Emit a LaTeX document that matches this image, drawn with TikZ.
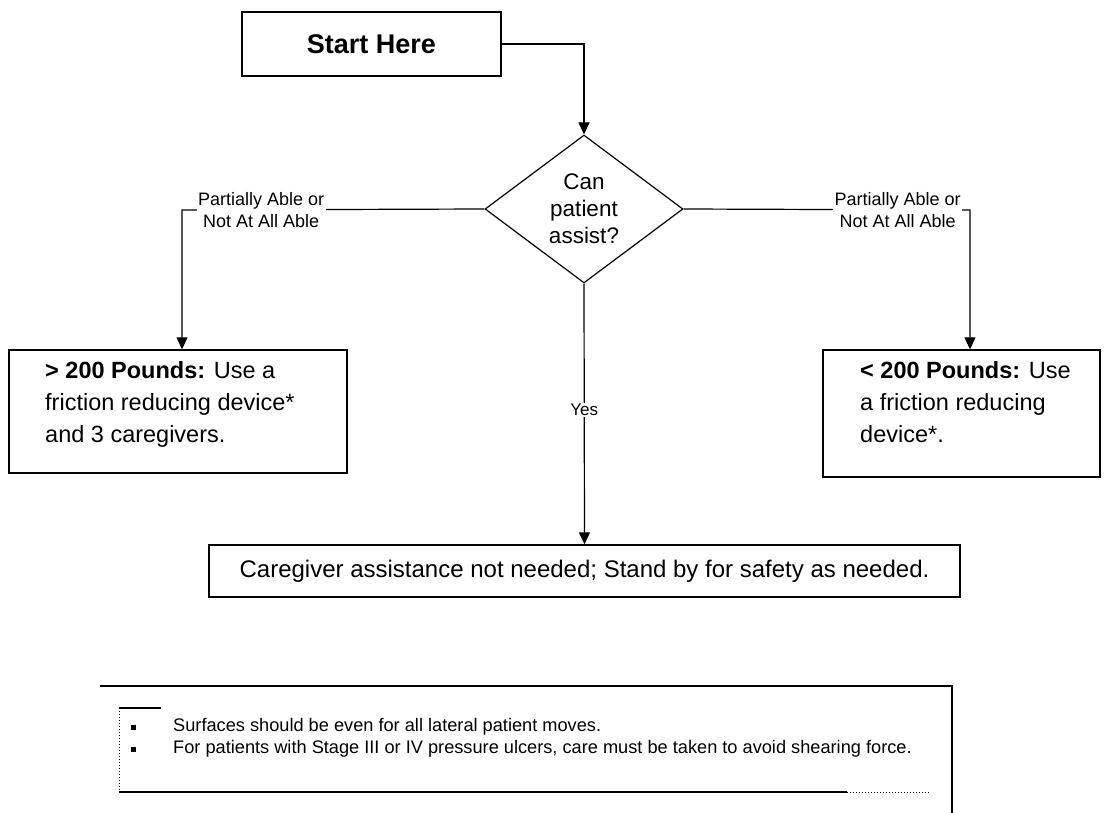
\documentclass[tikz,border=0pt]{standalone}
\usepackage{fontspec}
\setmainfont{Liberation Sans}
\usetikzlibrary{shapes.geometric,arrows.meta}
\begin{document}
\begin{tikzpicture}[x=1pt,y=-1pt,
  box/.style={draw, line width=1.4pt, inner sep=0pt},
  conn/.style={line width=1.2pt, -{Triangle[width=11pt,length=12pt]}},
  plain/.style={line width=1.2pt},
  lbl/.style={fill=white, inner sep=1.5pt, align=center, font=\fontsize{18}{22}\selectfont},
  body/.style={anchor=north west, inner sep=0pt, align=left, font=\fontsize{23.5}{32}\selectfont},
  bullet/.style={fill, minimum size=5pt, inner sep=0pt},
  note/.style={anchor=west, inner sep=0pt, font=\fontsize{18.2}{22}\selectfont}
]
\useasboundingbox (0,0) rectangle (1109,813);

% nodes
\node[box, minimum width=259pt, minimum height=64pt, font=\bfseries\fontsize{27}{30}\selectfont] (start) at (371.5,44) {Start Here};
\node[diamond, draw, line width=1.2pt, minimum width=198pt, minimum height=148pt, inner sep=0pt, align=center, font=\fontsize{22.5}{27}\selectfont] (dec) at (584,209) {Can\\patient\\assist?};

\node[box, minimum width=338pt, minimum height=123pt] (lbox) at (178,411.5) {};
\node[body] (ltext) at (45,361) {\textbf{> 200 Pounds:} Use a\\friction reducing device*\\and 3 caregivers.};

\node[box, minimum width=277pt, minimum height=127pt] (rbox) at (961.5,413.5) {};
\node[body] (rtext) at (860,361) {\textbf{< 200 Pounds:} Use\\a friction reducing\\device*.};

\node[box, minimum width=751pt, minimum height=52pt, font=\fontsize{24}{28}\selectfont] (care) at (584.5,571) {Caregiver assistance not needed; Stand by for safety as needed.};

% connectors
\draw[conn] (start.east) -| (dec.north);
\coordinate (lc) at (182,210);
\coordinate (rc) at (970,210);
\draw[conn] (dec.west) -- node[lbl, pos=0.738] (llab) {Partially Able or\\Not At All Able} (lc) -- (lc |- lbox.north);
\draw[conn] (dec.east) -- node[lbl, pos=0.747] (rlab) {Partially Able or\\Not At All Able} (rc) -- (rc |- rbox.north);
\draw[conn] (dec.south) -- node[lbl, pos=0.485, font=\fontsize{17}{20}\selectfont] (yes) {Yes} (care.north);

% notes box
\coordinate (t1) at (100,686);
\coordinate (t2) at (952,686);
\coordinate (t3) at (952,813);
\draw[line width=1.5pt] (t1) -- (t2) -- (t3);
\coordinate (s1) at (119,708);
\coordinate (s2) at (161,708);
\coordinate (s3) at (119,792);
\coordinate (s4) at (847,792);
\coordinate (s5) at (930,792);
\draw[line width=1.1pt] (s1) -- (s2);
\draw[line width=1pt, dotted] (s1) -- (s3);
\draw[line width=1.3pt] (s3) -- (s4);
\draw[line width=1pt, dotted] (s4) -- (s5);
\node[bullet] (b1) at (133,727) {};
\node[bullet] (b2) at (133,749) {};
\node[note] (n1) at (173,727) {Surfaces should be even for all lateral patient moves.};
\node[note] (n2) at (173,749) {For patients with Stage III or IV pressure ulcers, care must be taken to avoid shearing force.};
\end{tikzpicture}
\end{document}
